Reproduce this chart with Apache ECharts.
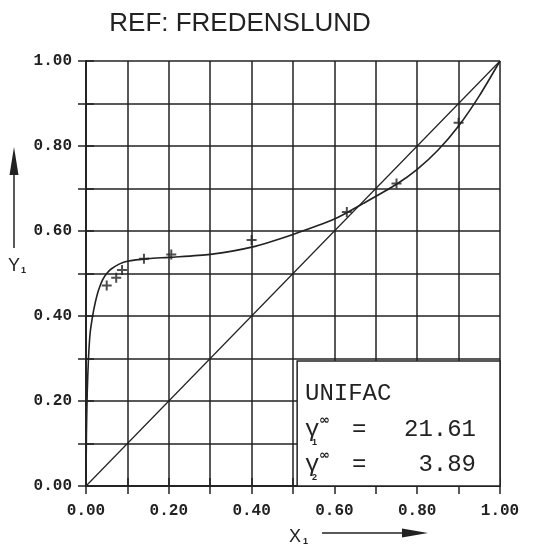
<!DOCTYPE html>
<html>
<head>
<meta charset="utf-8">
<script src="https://cdn.jsdelivr.net/npm/echarts@6/dist/echarts.min.js"></script>
<style>
  html, body { margin: 0; padding: 0; background: #fff; }
  #chart { width: 538px; height: 549px; }
</style>
</head>
<body>
<div id="chart"></div>
<script>
// UNIFAC curve (x1, y1)
const curveX = [0, 0.001, 0.003, 0.006, 0.010, 0.016, 0.022, 0.03, 0.04, 0.05, 0.06, 0.08, 0.10, 0.15, 0.20, 0.30, 0.40, 0.50, 0.60, 0.67, 0.75, 0.80, 0.85, 0.90, 0.95, 1.00];
const curveY = [0, 0.12, 0.22, 0.30, 0.36, 0.40, 0.43, 0.46, 0.485, 0.50, 0.51, 0.522, 0.529, 0.535, 0.538, 0.545, 0.562, 0.592, 0.628, 0.665, 0.71, 0.745, 0.79, 0.847, 0.918, 1.00];
// experimental points (Fredenslund)
const expX = [0.05, 0.073, 0.087, 0.14, 0.206, 0.40, 0.63, 0.75, 0.90];
const expY = [0.472, 0.49, 0.508, 0.535, 0.545, 0.579, 0.645, 0.712, 0.855];
const diagX = [0, 1];
const diagY = [0, 1];
const tickLabels = ["0.00", "0.20", "0.40", "0.60", "0.80", "1.00"];
const gamma1 = "21.61";
const gamma2 = "3.89";

const ink = "#222";
const labelFont = { color: ink, fontSize: 16, fontFamily: "Liberation Mono", fontWeight: "bold" };
const fmt = (v) => {
  const i = Math.round(v * 10);
  return i % 2 === 0 ? tickLabels[i / 2] : "";
};

const mkAxis = (pos, showLabel, margin) => ({
  type: "value",
  position: pos,
  min: 0,
  max: 1,
  interval: 0.1,
  axisLine: { show: true, lineStyle: { color: ink, width: 1.5 } },
  axisTick: { show: true, inside: false, length: 8, lineStyle: { color: ink, width: 1.5 } },
  axisLabel: showLabel ? { ...labelFont, margin, formatter: fmt } : { show: false },
  splitLine: { show: showLabel, lineStyle: { color: ink, width: 1.5 } },
});

const chart = echarts.init(document.getElementById("chart"));
const txt = (x, y, text, size, extra) => ({
  type: "text",
  x, y,
  style: Object.assign({ text, fill: ink, font: `${size}px "Liberation Mono"`, textVerticalAlign: "middle" }, extra || {}),
  z: 100,
});

chart.setOption({
  animation: false,
  backgroundColor: "#fff",
  grid: { left: 86, right: 38, top: 61, bottom: 63 },
  xAxis: [mkAxis("bottom", true, 17), mkAxis("top", false)],
  yAxis: [mkAxis("left", true, 14), mkAxis("right", false)],
  series: [
    {
      type: "line",
      data: diagX.map((x, i) => [x, diagY[i]]),
      symbol: "none",
      lineStyle: { color: ink, width: 1.2 },
      markArea: {
        silent: true,
        itemStyle: { color: "#fff", borderColor: ink, borderWidth: 1.5 },
        data: [[{ coord: [0.51, 0] }, { coord: [1, 0.294] }]],
      },
      z: 3,
    },
    {
      type: "line",
      data: curveX.map((x, i) => [x, curveY[i]]),
      symbol: "none",
      smooth: 0.25,
      lineStyle: { color: ink, width: 1.6 },
      z: 4,
    },
    {
      type: "scatter",
      data: expX.map((x, i) => [x, expY[i]]),
      symbol: "path://M4 0h2v4h4v2H6v4H4V6H0V4h4z",
      symbolSize: 10,
      itemStyle: { color: ink },
      z: 5,
    },
  ],
  graphic: [
    txt(240, 24, "REF: FREDENSLUND", 26, { textAlign: "center", font: '26px "Liberation Sans"' }),
    // Y1 label and arrow
    { type: "line", shape: { x1: 14, y1: 170, x2: 14, y2: 248 }, style: { stroke: ink, lineWidth: 1.5 } },
    { type: "polygon", shape: { points: [[14, 147], [9.5, 175], [18.5, 175]] }, style: { fill: ink } },
    txt(8, 266, "Y", 18, { font: '18px "Liberation Sans"' }),
    txt(21, 271, "1", 9, { font: 'bold 9px "Liberation Sans"' }),
    // X1 label and arrow
    txt(289, 537, "X", 18, { font: '18px "Liberation Sans"' }),
    txt(303, 542, "1", 9, { font: 'bold 9px "Liberation Sans"' }),
    { type: "line", shape: { x1: 322, y1: 533, x2: 405, y2: 533 }, style: { stroke: ink, lineWidth: 1.5 } },
    { type: "polygon", shape: { points: [[428, 533], [402, 528.5], [402, 537.5]] }, style: { fill: ink } },
    // UNIFAC box text
    txt(305, 394, "UNIFAC", 24),
    txt(305, 430, "γ", 24),
    txt(319, 421, "∞", 13, { font: 'bold 13px "DejaVu Sans"' }),
    txt(312, 443, "1", 9, { font: 'bold 9px "Liberation Sans"' }),
    txt(352, 430, "=", 24),
    txt(476, 430, gamma1, 24, { textAlign: "right" }),
    txt(305, 465, "γ", 24),
    txt(319, 456, "∞", 13, { font: 'bold 13px "DejaVu Sans"' }),
    txt(312, 478, "2", 9, { font: 'bold 9px "Liberation Sans"' }),
    txt(352, 465, "=", 24),
    txt(476, 465, gamma2, 24, { textAlign: "right" }),
  ],
});
</script>
</body>
</html>
